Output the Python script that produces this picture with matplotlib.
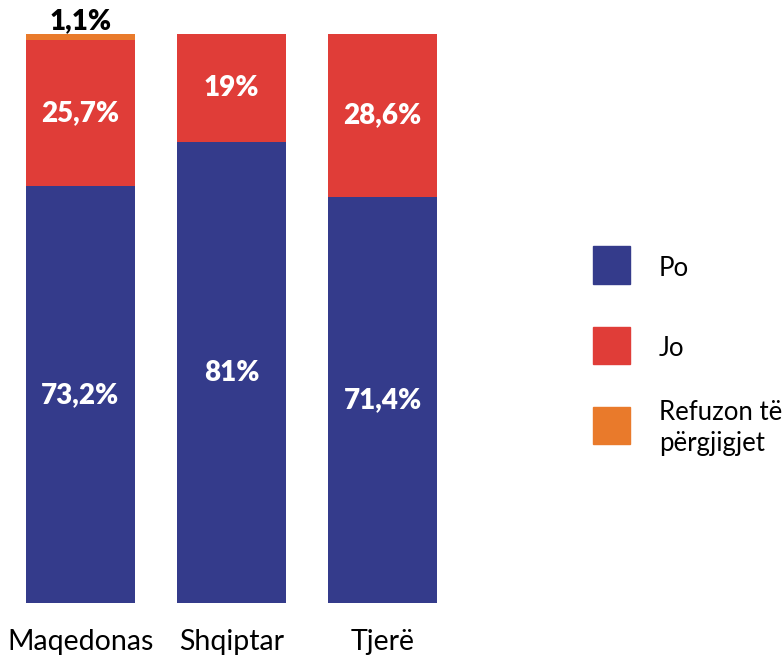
import matplotlib.pyplot as plt
from matplotlib.patches import Rectangle

plt.rcParams['font.family'] = ['Lato', 'DejaVu Sans']

groups = ['Maqedonas', 'Shqiptar', 'Tjerë']
po = [73.2, 81, 71.4]
jo = [25.7, 19, 28.6]
refuzon = [1.1, 0, 0]
po_labels = ['73,2%', '81%', '71,4%']
jo_labels = ['25,7%', '19%', '28,6%']
refuzon_labels = ['1,1%', '', '']
legend_labels = ['Po', 'Jo', 'Refuzon të\npërgjigjet']

c_po = '#343b8b'
c_jo = '#e03d38'
c_ref = '#e97a2b'

W, H = 784, 659
fig = plt.figure(figsize=(W / 100, H / 100), dpi=100)
ax = fig.add_axes([26 / W, (H - 603) / H, (437 - 26) / W, (603 - 34) / H])

x = range(len(groups))
width = 0.72
ax.bar(x, po, width, color=c_po)
ax.bar(x, jo, width, bottom=po, color=c_jo)
bottoms = [a + b for a, b in zip(po, jo)]
ax.bar(x, refuzon, width, bottom=bottoms, color=c_ref)

for i in x:
    ax.text(i, po[i] / 2, po_labels[i], ha='center', va='center',
            color='white', fontsize=20, fontweight='heavy')
    ax.text(i, po[i] + jo[i] / 2, jo_labels[i], ha='center', va='center',
            color='white', fontsize=20, fontweight='heavy')
    if refuzon_labels[i]:
        ax.text(i, bottoms[i] + refuzon[i], refuzon_labels[i], ha='center',
                va='bottom', color='black', fontsize=20, fontweight='heavy')

ax.set_xlim(-0.36, 2.36)
ax.set_ylim(0, 100)
ax.set_xticks(list(x))
ax.set_xticklabels(groups, fontsize=20.5)
ax.tick_params(axis='x', length=0, pad=19)
ax.set_yticks([])
for s in ax.spines.values():
    s.set_visible(False)

# legend drawn by hand
colors = [c_po, c_jo, c_ref]
for k, (lab, col) in enumerate(zip(legend_labels, colors)):
    cy = 265 + 80 * k
    fig.add_artist(Rectangle((593 / W, (H - cy - 18.5) / H), 37 / W, 37 / H,
                             transform=fig.transFigure, color=col))
    fig.text(659 / W, (H - cy - 3) / H, lab, ha='left', va='center',
             fontsize=18.5, linespacing=1.3)

fig.savefig('out.png', dpi=100)
